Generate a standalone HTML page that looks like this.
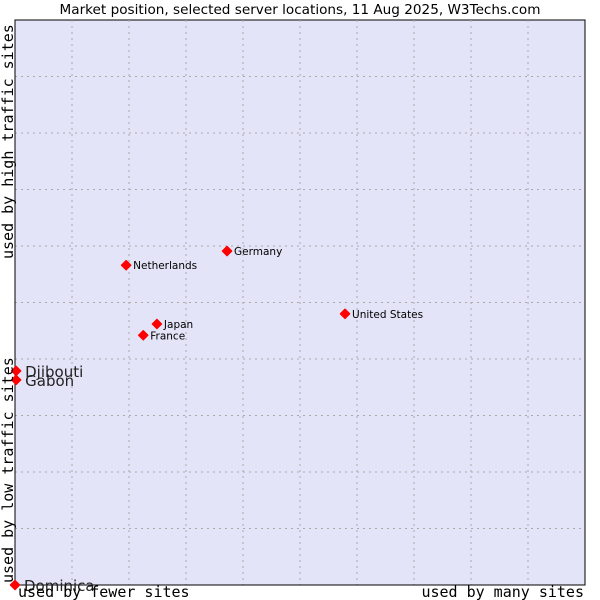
<!DOCTYPE html>
<html><head><meta charset="utf-8"><style>
body{margin:0;background:#fff;width:600px;height:600px;overflow:hidden}
svg{display:block}
</style></head><body>
<svg id="chart" width="600" height="600" xmlns="http://www.w3.org/2000/svg">
<rect x="0" y="0" width="600" height="600" fill="#fff"/>
<text x="300" y="14" text-anchor="middle" font-family="DejaVu Sans, sans-serif" font-size="13.6" fill="#000">Market position, selected server locations, 11 Aug 2025, W3Techs.com</text>
<rect x="15" y="20" width="570" height="565" fill="#e4e4f8" stroke="#000" stroke-width="1"/>
<g id="grid"></g>
<line x1="15" y1="20" x2="15" y2="585" stroke="#000"/>
<line x1="15" y1="585" x2="585" y2="585" stroke="#000"/>
<g id="points"></g>
<text x="18" y="597" font-family="DejaVu Sans Mono, monospace" font-size="15" fill="#000">used by fewer sites</text>
<text x="584" y="597" text-anchor="end" font-family="DejaVu Sans Mono, monospace" font-size="15" fill="#000">used by many sites</text>
<text transform="translate(13,583) rotate(-90)" font-family="DejaVu Sans Mono, monospace" font-size="15" fill="#000">used by low traffic sites</text>
<text transform="translate(13,259) rotate(-90)" font-family="DejaVu Sans Mono, monospace" font-size="15" fill="#000">used by high traffic sites</text>
</svg>
<script>
const countries = ["Germany","Netherlands","Japan","France","United States","Djibouti","Gabon","Dominica"];
const xValues = [3.72,1.95,2.49,2.25,5.79,0.02,0.02,0.0];
const yValues = [5.91,5.66,4.62,4.42,4.80,3.79,3.63,0.0];
const bigLabel = [false,false,false,false,false,true,true,true];
const gridTicks = [1,2,3,4,5,6,7,8,9];

const NS="http://www.w3.org/2000/svg";
function xs(v){return 15+v*57;}
function ys(v){return 585-v*56.5;}
const grid=document.getElementById('grid');
gridTicks.forEach(t=>{
  const v=document.createElementNS(NS,'line');
  v.setAttribute('x1',xs(t));v.setAttribute('x2',xs(t));v.setAttribute('y1',20);v.setAttribute('y2',585);
  v.setAttribute('stroke','#aaa');v.setAttribute('stroke-dasharray','2,4');
  
  
  grid.appendChild(v);
  const h=document.createElementNS(NS,'line');
  h.setAttribute('x1',15);h.setAttribute('x2',585);h.setAttribute('y1',ys(t));h.setAttribute('y2',ys(t));
  h.setAttribute('stroke','#aaa');h.setAttribute('stroke-dasharray','2,4');
  
  
  grid.appendChild(h);
});
const pts=document.getElementById('points');
countries.forEach((c,i)=>{
  const x=xs(xValues[i]), y=ys(yValues[i]);
  const d=document.createElementNS(NS,'path');
  d.setAttribute('d',`M${x-4.5},${y} L${x},${y-4.5} L${x+4.5},${y} L${x},${y+4.5} Z`);
  d.setAttribute('fill','#f00');d.setAttribute('stroke','#f00');d.setAttribute('stroke-width','1.5');d.setAttribute('stroke-linejoin','round');
  
  
  pts.appendChild(d);
  const t=document.createElementNS(NS,'text');
  t.setAttribute('font-family','DejaVu Sans, sans-serif');
  if(bigLabel[i]){t.setAttribute('font-size','15');t.setAttribute('x',x+9);t.setAttribute('y',y+6);t.setAttribute('fill','#222');}
  else{t.setAttribute('font-size','10.5');t.setAttribute('x',x+7);t.setAttribute('y',y+4);t.setAttribute('fill','#000');}
  t.textContent=c;
  
  
  pts.appendChild(t);
});
</script>
</body></html>
